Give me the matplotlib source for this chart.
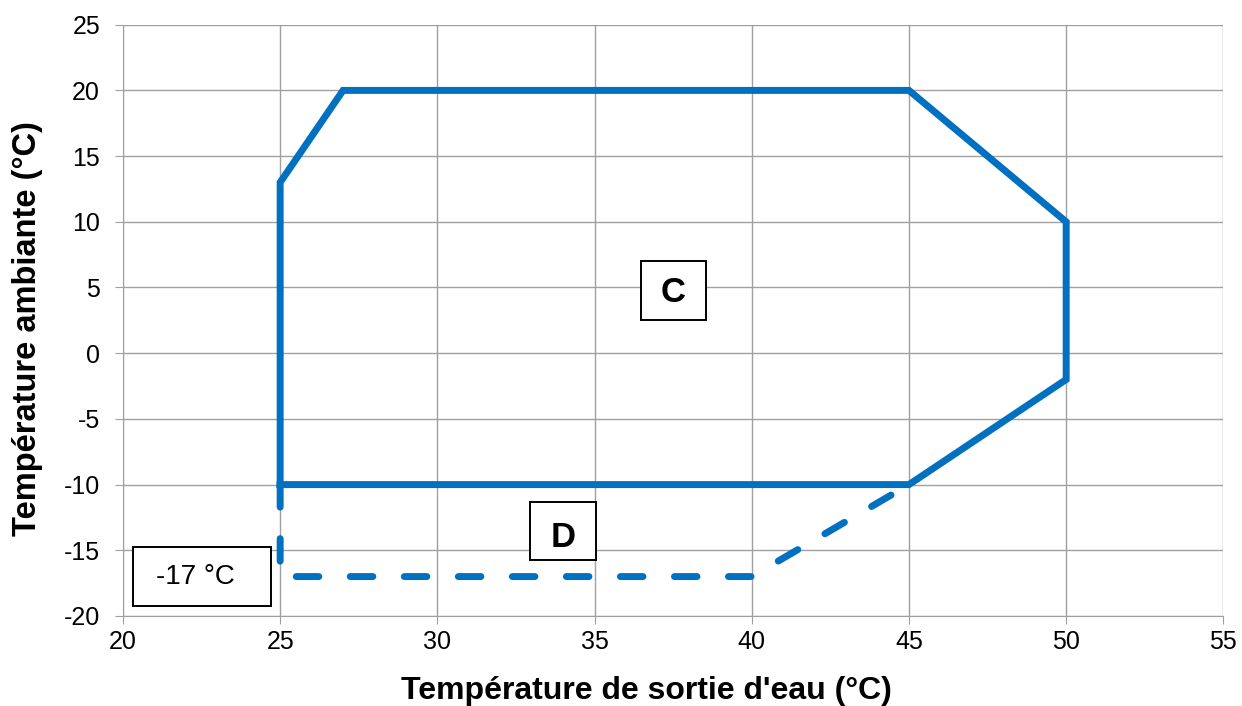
import numpy as np
import matplotlib
matplotlib.use('Agg')
import matplotlib.pyplot as plt
from matplotlib.patches import Rectangle

plt.rcParams['font.family'] = ['Liberation Sans', 'DejaVu Sans']
plt.rcParams['axes.unicode_minus'] = False

# zone C (trait plein)
zone_c_x = [25, 25, 27, 45, 50, 50, 45, 25]
zone_c_y = [-10, 13, 20, 20, 10, -2, -10, -10]

# zone D (pointillés), tracée depuis le coin 25 / -10
zone_d_x = [25, 25, 40, 45]
zone_d_y = [-10, -17, -17, -10]

x_ticks = [20, 25, 30, 35, 40, 45, 50, 55]
y_ticks = [-20, -15, -10, -5, 0, 5, 10, 15, 20, 25]

# étiquettes encadrées
etiquettes = ['C', 'D', '-17 °C']
etiq_x = [37.5, 34.0, 22.3]
etiq_y = [4.6, -14.0, -17.0]
etiq_gras = [True, True, False]
cadre_cx = [37.52, 34.0, 22.51]
cadre_cy = [4.78, -13.54, -17.0]
cadre_w = [2.07, 2.1, 4.39]
cadre_h = [4.5, 4.42, 4.49]

bleu = '#0070C0'

fig = plt.figure(figsize=(12.42, 7.06), dpi=100)
ax = fig.add_axes([0.099, 0.1275, 0.886, 0.8375])

ax.plot(zone_d_x, zone_d_y, color=bleu, lw=5, dashes=(3.25, 4.53),
        dash_capstyle='round', zorder=3)
ax.plot(zone_c_x, zone_c_y, color=bleu, lw=5, solid_joinstyle='miter', zorder=4)

ax.set_xlim(20, 55)
ax.set_ylim(-20, 25)
ax.set_xticks(x_ticks)
ax.set_yticks(y_ticks)
ax.grid(True, color='#a0a0a0', lw=1)
ax.set_axisbelow(True)
for s in ['top', 'right']:
    ax.spines[s].set_visible(False)
for s in ['left', 'bottom']:
    ax.spines[s].set_color('#a0a0a0')
ax.tick_params(labelsize=18, color='#a0a0a0', length=5.5)
ax.tick_params(axis='x', pad=4.5)
ax.tick_params(axis='y', pad=11)

ax.set_xlabel("Température de sortie d'eau (°C)", fontsize=23, fontweight='bold')
ax.set_ylabel('Température ambiante (°C)', fontsize=23.5, fontweight='bold')
ax.xaxis.set_label_coords(0.476, -0.1015)
ax.yaxis.set_label_coords(-0.073, 0.4865)

for i in range(len(etiquettes)):
    ax.add_patch(Rectangle((cadre_cx[i] - cadre_w[i] / 2, cadre_cy[i] - cadre_h[i] / 2),
                           cadre_w[i], cadre_h[i], fc='white', ec='black', lw=1.4, zorder=5))
    ax.text(etiq_x[i], etiq_y[i], etiquettes[i],
            fontsize=25 if etiq_gras[i] else 20,
            fontweight='bold' if etiq_gras[i] else 'normal',
            ha='center', va='center', zorder=6)

fig.savefig('out.png', dpi=100)
